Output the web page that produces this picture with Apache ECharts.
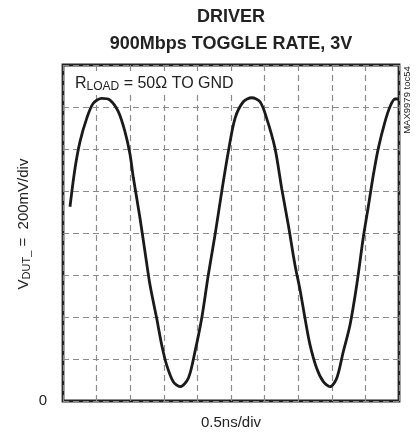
<!DOCTYPE html>
<html>
<head>
<meta charset="utf-8">
<title>DRIVER 900Mbps TOGGLE RATE</title>
<script src="https://cdn.jsdelivr.net/npm/echarts@6/dist/echarts.min.js"></script>
<style>
  html, body { margin: 0; padding: 0; background: #fff; }
  #chart { width: 420px; height: 437px; }
</style>
</head>
<body>
<div id="chart"></div>
<script>
// time in ns (0.5ns/div, 10 div), voltage in mV (200mV/div, 8 div)
const timeNs = [
  0.104, 0.179, 0.253, 0.353, 0.451, 0.576, 0.699, 0.823, 0.923, 0.997,
  1.046, 1.146, 1.220, 1.295, 1.394, 1.469, 1.543, 1.641, 1.741, 1.865,
  1.964, 2.064, 2.162, 2.262, 2.362, 2.460, 2.560, 2.683, 2.808, 2.932,
  3.031, 3.155, 3.254, 3.353, 3.452, 3.527, 3.601, 3.676, 3.775, 3.874,
  3.973, 4.073, 4.171, 4.271, 4.371, 4.469, 4.543, 4.618, 4.692, 4.792,
  4.866, 4.940, 5.000
];
const voltageMv = [
  925, 1108, 1235, 1346, 1418, 1441, 1433, 1378, 1282, 1175,
  1065, 870, 711, 552, 394, 267, 171, 92, 68, 108,
  235, 394, 600, 790, 997, 1187, 1346, 1425, 1444, 1425,
  1346, 1203, 1013, 838, 648, 530, 394, 267, 156, 92,
  68, 108, 235, 362, 552, 780, 925, 1076, 1203, 1330,
  1401, 1438, 1438
];
const titleLines = ['DRIVER', '900Mbps TOGGLE RATE, 3V'];

const FONT = "'Liberation Sans', Arial, sans-serif";
const chart = echarts.init(document.getElementById('chart'));

const dashed = { color: '#8a8a8a', width: 1.2, type: [6, 4] };

let option = {
  animation: false,
  backgroundColor: '#fff',
  grid: {
    left: 63, right: 21, top: 65, bottom: 36,
    show: true, borderColor: '#222', borderWidth: 2.8
  },
  xAxis: {
    type: 'value', min: 0, max: 5, interval: 0.5,
    axisLine: { show: false }, axisTick: { show: false }, axisLabel: { show: false },
    splitLine: { show: true, lineStyle: dashed }
  },
  yAxis: {
    type: 'value', min: 0, max: 1600, interval: 200,
    axisLine: { show: false }, axisTick: { show: false },
    axisLabel: {
      formatter: (v) => (v === 0 ? '0' : ''),
      color: '#222', fontFamily: FONT, fontSize: 15, margin: 16,
      verticalAlign: 'middle', padding: [0, 0, 8, 0]
    },
    splitLine: { show: true, lineStyle: dashed }
  },
  graphic: [
    {
      type: 'text', x: 231, y: 17,
      style: { text: titleLines[0], font: 'bold 18px ' + FONT, fill: '#222', align: 'center', verticalAlign: 'middle' }
    },
    {
      type: 'text', x: 231, y: 44,
      style: { text: titleLines[1], font: 'bold 18px ' + FONT, fill: '#222', align: 'center', verticalAlign: 'middle' }
    },
    {
      type: 'text', x: 231, y: 423,
      style: { text: '0.5ns/div', font: '15px ' + FONT, fill: '#222', align: 'center', verticalAlign: 'middle' }
    },
    {
      type: 'text', x: 24, y: 224, rotation: Math.PI / 2,
      style: {
        text: '{v|V}{s|DUT_}{v| =  200mV/div}',
        align: 'center', verticalAlign: 'middle',
        rich: {
          v: { font: '15px ' + FONT, fill: '#222' },
          s: { font: '11px ' + FONT, fill: '#222', padding: [6, 0, 0, 0] }
        }
      }
    },
    {
      type: 'text', x: 407, y: 100, rotation: Math.PI / 2,
      style: { text: 'MAX9979 toc54', font: '9.5px ' + FONT, fill: '#222', align: 'center', verticalAlign: 'middle' }
    },
    {
      type: 'text', x: 72, y: 84, z: 10,
      style: {
        text: '{v|R}{s|LOAD}{v| = 50Ω TO GND}',
        align: 'left', verticalAlign: 'middle',
        backgroundColor: '#fff', padding: [1, 3, 1, 3],
        rich: {
          v: { font: '16px ' + FONT, fill: '#222' },
          s: { font: '12px ' + FONT, fill: '#222', padding: [6, 0, 0, 0] }
        }
      }
    }
  ],
  series: [
    {
      type: 'line',
      data: timeNs.map((t, i) => [t, voltageMv[i]]),
      showSymbol: false,
      smooth: 0.3,
      lineStyle: { color: '#1a1a1a', width: 2.8 },
      z: 5
    }
  ]
};
chart.setOption(option);
window.addEventListener('resize', () => chart.resize());
</script>
</body>
</html>
